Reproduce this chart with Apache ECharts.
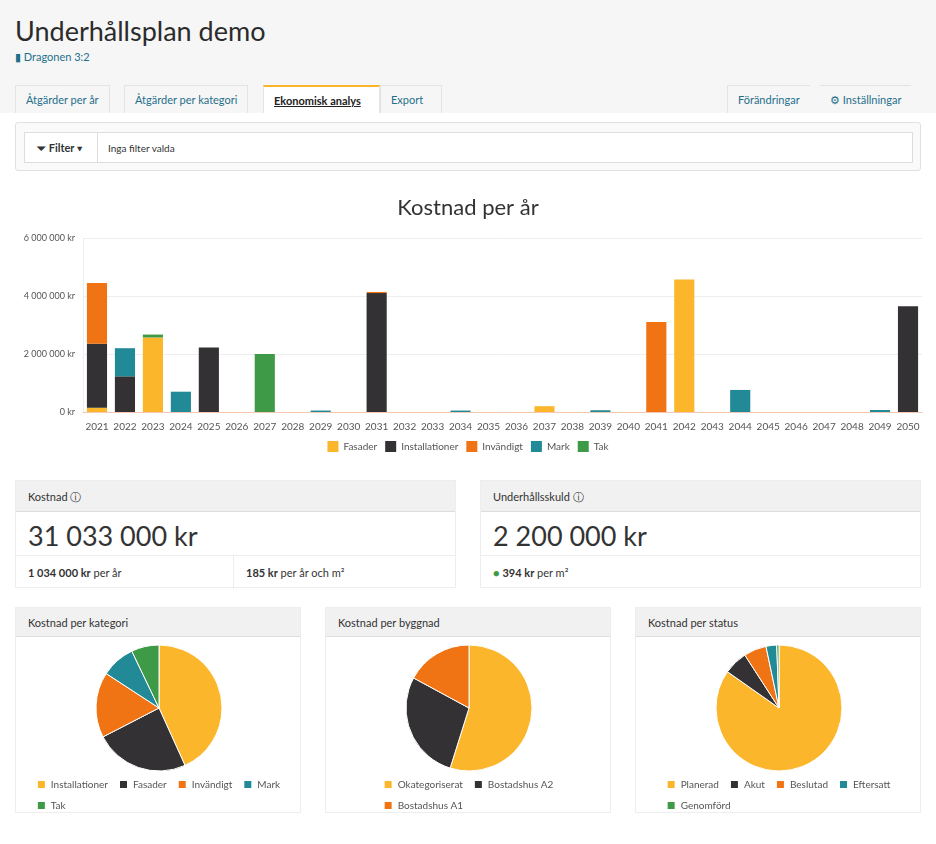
<!DOCTYPE html>
<html><head><meta charset="utf-8">
<script src="https://cdn.jsdelivr.net/npm/echarts@6/dist/echarts.min.js"></script>
<style>
*{box-sizing:border-box}
body{margin:0;width:936px;height:844px;font-family:Lato,"Noto Sans",sans-serif;color:#333;background:#fff;position:relative;overflow:hidden}
.top{position:absolute;left:0;top:0;width:936px;height:113px;background:#f6f6f6}
h1{position:absolute;left:15px;top:14px;margin:0;font-weight:400;font-size:27px;color:#2b2b2b}
.sub{position:absolute;left:15px;top:50px;font-size:11px;color:#1f6f8b}
.tab{position:absolute;top:85px;height:28px;font-size:11px;color:#1f6f8b;padding:7px 10px;border:1px solid #e3e3e3;border-bottom:none}
.tab.act{background:#fff;border-top:2px solid #fbb62b;color:#222;font-weight:700;text-decoration:underline}
.fbox{position:absolute;left:15px;top:122px;width:906px;height:49px;border:1px solid #e0e0e0;border-radius:3px;background:#fafafa}
.fin{position:absolute;left:8px;top:9px;width:889px;height:31px;border:1px solid #ddd;background:#fff;font-size:10px}
.fin .b{position:absolute;left:0;top:0;width:73px;height:29px;border-right:1px solid #ddd;padding:8px 0 0 12px;font-size:11px}
.fin .t{position:absolute;left:83px;top:9px}
.card{position:absolute;border:1px solid #eee;background:#fff}
.card .h{height:31px;background:#f1f1f1;border-bottom:1px solid #ddd;font-size:11px;padding:9px 12px}
.big{font-size:27px;padding:7px 12px;height:44px;border-bottom:1px solid #eee}
.row{font-size:11px;padding:10px 12px;position:relative;height:33px}
.pc{position:absolute;top:607px;width:286px;height:206px;border:1px solid #eee}
.pc .h{height:29px;background:#f1f1f1;border-bottom:1px solid #ddd;font-size:11px;padding:8px 12px}
.pie{width:284px;height:176px}
</style></head><body>
<div class="top"></div>
<h1>Underhållsplan demo</h1>
<div class="sub">&#9646; Dragonen 3:2</div>
<div class="tab" style="left:15px">Åtgärder per år</div>
<div class="tab" style="left:124px">Åtgärder per kategori</div>
<div class="tab act" style="left:263px;width:117px">Ekonomisk analys</div>
<div class="tab" style="left:380px;width:62px">Export</div>
<div class="tab" style="left:727px;border-right:none">Förändringar</div>
<div class="tab" style="left:820px;border-left:none;border-right:none">&#9881; Inställningar</div>
<div class="fbox"><div class="fin"><div class="b"><b>&#9207; Filter ▾</b></div><div class="t">Inga filter valda</div></div></div>
<div id="bar" style="position:absolute;left:0;top:180px;width:936px;height:285px"></div>

<div class="card" style="left:15px;top:480px;width:441px;height:108px">
<div class="h">Kostnad &#9432;</div><div class="big">31 033 000 kr</div>
<div class="row"><b>1 034 000 kr</b> per år<span style="position:absolute;left:217px;top:0;height:33px;border-left:1px solid #eee;padding:10px 12px"><b>185 kr</b> per år och m²</span></div></div>
<div class="card" style="left:480px;top:480px;width:441px;height:108px">
<div class="h">Underhållsskuld &#9432;</div><div class="big">2 200 000 kr</div>
<div class="row"><span style="color:#3f9a47">&#9679;</span> <b>394 kr</b> per m²</div></div>

<div class="pc" style="left:15px"><div class="h">Kostnad per kategori</div><div class="pie" id="p1"></div></div>
<div class="pc" style="left:325px"><div class="h">Kostnad per byggnad</div><div class="pie" id="p2"></div></div>
<div class="pc" style="left:635px"><div class="h">Kostnad per status</div><div class="pie" id="p3"></div></div>
<script>
const years=[];for(let y=2021;y<=2050;y++)years.push(String(y));
const seriesNames=["Fasader","Installationer","Invändigt","Mark","Tak"];
const colors=["#fbb62b","#333133","#f07314","#218a96","#3f9a47"];
// values in kr, 2021..2050
const fasader=[150000,0,2570000,0,0,0,0,0,0,0,0,0,0,0,0,0,200000,0,0,0,0,4570000,0,0,0,0,0,0,0,0];
const installationer=[2200000,1230000,0,0,2220000,0,0,0,0,0,4100000,0,0,0,0,0,0,0,0,0,0,0,0,0,0,0,0,0,0,3650000];
const invandigt=[2100000,0,0,0,0,0,0,0,0,0,40000,0,0,0,0,0,0,0,0,0,3100000,0,0,0,0,0,0,0,0,0];
const mark=[0,970000,0,700000,0,0,0,0,50000,0,0,0,0,50000,0,0,0,0,60000,0,0,0,0,760000,0,0,0,0,70000,0];
const tak=[0,0,100000,0,0,0,2000000,0,0,0,0,0,0,0,0,0,0,0,0,0,0,0,0,0,0,0,0,0,0,0];
const kategoriNames=["Installationer","Fasader","Invändigt","Mark","Tak"];
const kategoriValues=[13400000,7500000,5200000,2700000,2200000];
const byggnadNames=["Okategoriserat","Bostadshus A2","Bostadshus A1"];
const byggnadValues=[17000000,8700000,5300000];
const statusNames=["Planerad","Akut","Beslutad","Eftersatt","Genomförd"];
const statusValues=[26300000,1900000,1800000,850000,180000];

const fmt=v=>String(v).replace(/\B(?=(\d{3})+(?!\d))/g,' ')+' kr';
const font='Lato';
const bar=echarts.init(document.getElementById('bar'));
const data=[fasader,installationer,invandigt,mark,tak];
bar.setOption({
 textStyle:{fontFamily:font},
 color:colors,
 title:{text:'Kostnad per år',left:'center',top:12,textStyle:{fontSize:22,fontWeight:'normal',color:'#333',fontFamily:font}},
 legend:{bottom:8,itemWidth:11,itemHeight:11,textStyle:{fontSize:10,color:'#555'},icon:'rect'},
 grid:{left:83,right:14,top:58,bottom:53},
 xAxis:{type:'category',data:years,axisTick:{show:false},axisLine:{lineStyle:{color:'#f0c9b0'}},axisLabel:{fontSize:10,color:'#555',interval:0,margin:10}},
 yAxis:{type:'value',min:0,max:6000000,interval:2000000,axisLabel:{fontSize:9,color:'#555',formatter:fmt},splitLine:{lineStyle:{color:'#eee'}},axisLine:{show:true,lineStyle:{color:'#eee'}}},
 series:seriesNames.map((n,i)=>({name:n,type:'bar',stack:'a',barWidth:'72%',data:data[i].map(v=>v||null)}))
});
function pie(id,names,values,w){
 const c=echarts.init(document.getElementById(id));
 c.setOption({color:colors,textStyle:{fontFamily:font},
  legend:{top:137,left:'center',width:w,itemWidth:9,itemHeight:9,itemGap:10,textStyle:{fontSize:10,color:'#555'},icon:'rect'},
  series:[{type:'pie',center:[143,71],radius:63,startAngle:90,label:{show:false},itemStyle:{borderColor:'#fff',borderWidth:1},
   data:names.map((n,i)=>({name:n,value:values[i]}))}]});
}
pie('p1',kategoriNames,kategoriValues,270);
pie('p2',byggnadNames,byggnadValues,210);
pie('p3',statusNames,statusValues,270);
</script></body></html>
